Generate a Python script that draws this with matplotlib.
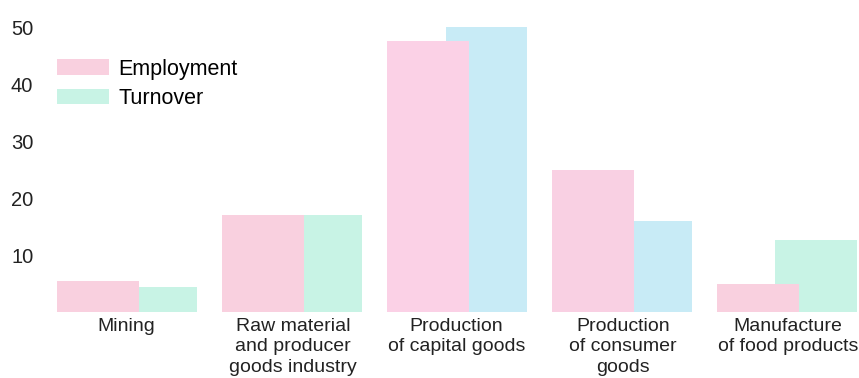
import matplotlib
matplotlib.use("Agg")
import matplotlib.pyplot as plt
import numpy as np
from matplotlib.patches import Patch

# ── Data ──────────────────────────────────────
categories = ["Mining",
              "Raw material\nand producer\ngoods industry",
              "Production\nof capital goods",
              "Production\nof consumer\ngoods",
              "Manufacture\nof food products"]
employment = [5.4, 17.0, 47.5, 25.0, 5.0]
turnover   = [4.4, 17.0, 50.0, 16.0, 12.6]
y_ticks    = [10, 20, 30, 40, 50]

# ── Style ─────────────────────────────────────
PINK       = "#f9d0df"
MINT       = "#c8f3e5"
BLUE       = "#c8ebf6"
turn_cols  = [MINT, MINT, BLUE, BLUE, MINT]
emp_cols   = [PINK, PINK, "#fbd1e6", "#f9d0e3", PINK]
turn_start = [0.50, 0.50, 0.36, 0.50, 0.35]   # turnover bar left edge within group
label_off  = [0.42, 0.43, 0.42, 0.43, 0.43]

plt.rcParams['font.family'] = ['Liberation Sans', 'DejaVu Sans']

fig = plt.figure(figsize=(8.59, 3.78), dpi=100)
ax = fig.add_axes([50 / 859, 66 / 378, 809 / 859, 312 / 378])

x = np.arange(len(categories))
ax.bar(x + np.array(turn_start), turnover, width=0.85 - np.array(turn_start),
       align='edge', color=turn_cols, zorder=1, linewidth=0)
ax.bar(x, employment, width=0.50, align='edge', color=emp_cols,
       zorder=2, linewidth=0)

ax.set_xlim(-0.0424, 4.861)
ax.set_ylim(0, 54.74)

ax.set_yticks(y_ticks)
ax.set_yticklabels([str(v) for v in y_ticks], fontsize=14.5, color="#222222")
ax.set_xticks(x + np.array(label_off))
ax.set_xticklabels(categories, fontsize=14, color="#222222", linespacing=1.3)
ax.tick_params(axis='both', length=0)
ax.tick_params(axis='y', pad=12)
ax.tick_params(axis='x', pad=4)

for s in ax.spines.values():
    s.set_visible(False)

handles = [Patch(facecolor=PINK, edgecolor='none', label="Employment"),
           Patch(facecolor=MINT, edgecolor='none', label="Turnover")]
ax.legend(handles=handles, loc='upper left', bbox_to_anchor=(-0.002, 0.84),
          frameon=False, fontsize=15.5, handlelength=2.4, handleheight=0.7,
          handletextpad=0.45, labelspacing=0.4, borderaxespad=0)

plt.savefig("out.png", dpi=100)
